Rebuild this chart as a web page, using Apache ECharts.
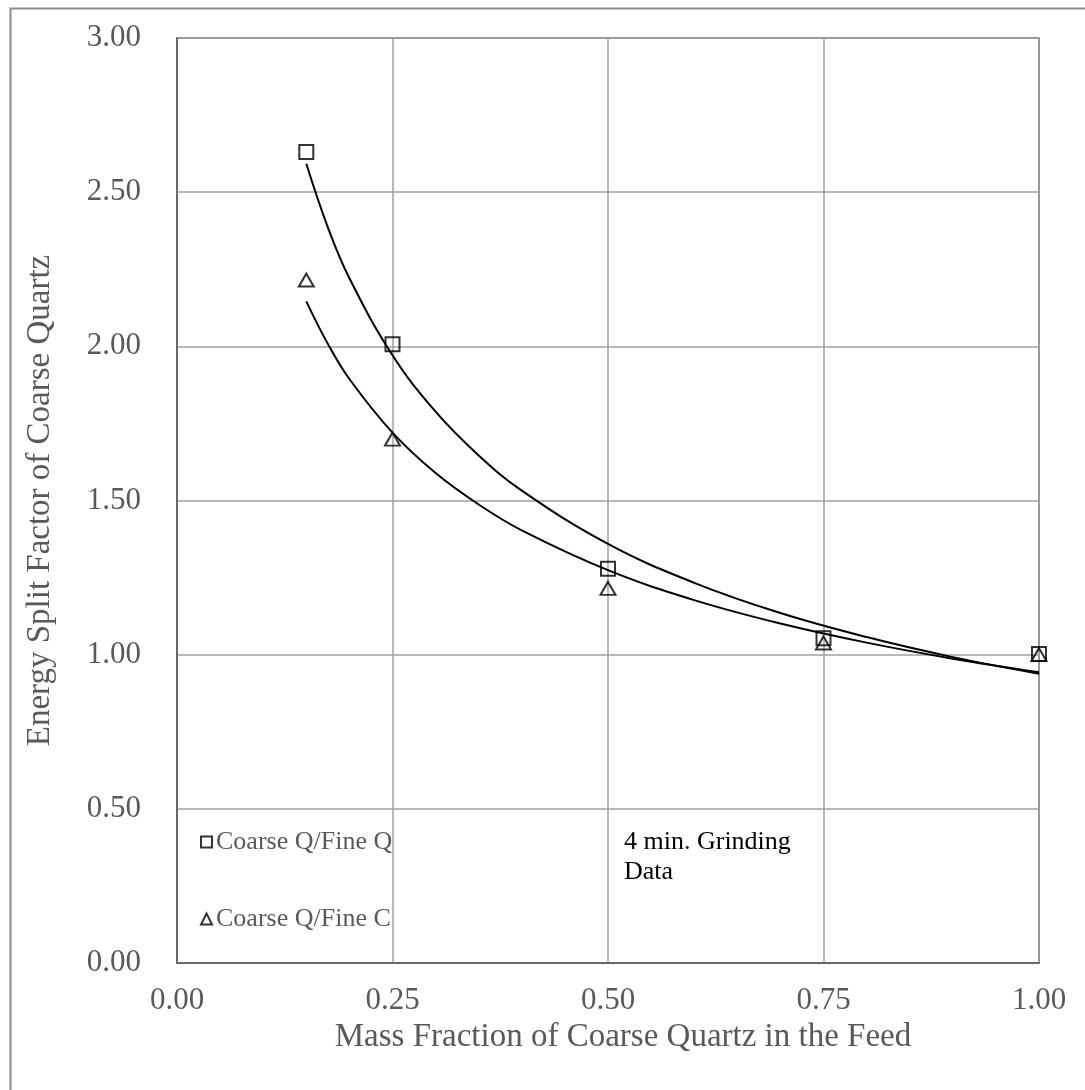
<!DOCTYPE html>
<html>
<head>
<meta charset="utf-8">
<script src="https://cdn.jsdelivr.net/npm/echarts@6/dist/echarts.min.js"></script>
<style>
html,body{margin:0;padding:0;background:#fff;}
#chart{width:1085px;height:1090px;}
</style>
</head>
<body>
<div id="chart"></div>
<script>
// Data
var xMass = [0.15, 0.25, 0.50, 0.75, 1.00];
var coarseQFineQ = [2.63, 2.007, 1.279, 1.053, 1.002];
var coarseQFineC = [2.215, 1.699, 1.215, 1.038, 1.000];

// Trendline curves
var trendX = [0.15, 0.175, 0.2, 0.25, 0.3, 0.35, 0.4, 0.5, 0.6, 0.7, 0.8, 0.9, 1.0];
var trendQ = [2.592, 2.386, 2.221, 1.971, 1.788, 1.646, 1.532, 1.359, 1.233, 1.135, 1.057, 0.992, 0.938];
var trendC = [2.146, 2.008, 1.894, 1.720, 1.589, 1.487, 1.403, 1.274, 1.177, 1.101, 1.039, 0.987, 0.943];

var xTicks = [0, 0.25, 0.5, 0.75, 1.0];
var yTicks = [0, 0.5, 1.0, 1.5, 2.0, 2.5, 3.0];

function pairs(xs, ys){ return xs.map(function(x,i){ return [x, ys[i]]; }); }

var FONT = '"Liberation Serif","Times New Roman",serif';
var GRAY = '#595959';

var chart = echarts.init(document.getElementById('chart'), null, {renderer:'canvas'});
chart.setOption({
  animation: false,
  backgroundColor: '#fff',
  textStyle: {fontFamily: FONT},
  grid: {left: 177, top: 38, width: 862, height: 925, show: true, borderColor: GRAY, borderWidth: 1.5, containLabel: false},
  graphic: [
    {type:'rect', left: 8, top: 6, shape:{width: 1200, height: 1200}, style:{fill:'none', stroke:'#8c8c8c', lineWidth: 2}, z: -1},
    {type:'text', left: 624, top: 827, style:{text:'4 min. Grinding\nData', fill:'#000', font: '26px ' + FONT, lineHeight: 30}}
  ],
  legend: {
    orient: 'vertical', left: 195, top: 824, itemGap: 51, itemWidth: 11, itemHeight: 11, selectedMode: false,
    textStyle: {color: GRAY, fontSize: 26, fontFamily: FONT, padding:[0,0,0,-1]},
    data: ['Coarse Q/Fine Q', 'Coarse Q/Fine C']
  },
  xAxis: {
    type: 'value', min: 0, max: 1, interval: 0.25,
    name: 'Mass Fraction of Coarse Quartz in the Feed', nameLocation: 'middle', nameGap: 54,
    nameTextStyle: {color: GRAY, fontSize: 33, fontFamily: FONT, padding: [0,0,0,30]},
    axisLine: {show: true, lineStyle: {color: GRAY, width: 1.5}},
    axisTick: {show: false},
    axisLabel: {color: GRAY, fontSize: 31, fontFamily: FONT, margin: 22, formatter: function(v){ return v.toFixed(2); }},
    splitLine: {show: true, lineStyle: {color: '#a0a0a0', width: 1.5}}
  },
  yAxis: {
    type: 'value', min: 0, max: 3, interval: 0.5,
    name: 'Energy Split Factor of Coarse Quartz', nameLocation: 'middle', nameGap: 120, nameRotate: 90,
    nameTextStyle: {color: GRAY, fontSize: 33, fontFamily: FONT},
    axisLine: {show: true, lineStyle: {color: GRAY, width: 1.5}},
    axisTick: {show: false},
    axisLabel: {color: GRAY, fontSize: 31, fontFamily: FONT, margin: 36, formatter: function(v){ return v.toFixed(2); }},
    splitLine: {show: true, lineStyle: {color: '#a0a0a0', width: 1.5}}
  },
  series: [
    {name: 'trendQ', type: 'line', data: pairs(trendX, trendQ), smooth: 0.4, showSymbol: false, symbol: 'none',
      lineStyle: {color: '#000', width: 2}, z: 3, silent: true},
    {name: 'trendC', type: 'line', data: pairs(trendX, trendC), smooth: 0.4, showSymbol: false, symbol: 'none',
      lineStyle: {color: '#000', width: 2}, z: 3, silent: true},
    {name: 'Coarse Q/Fine Q', type: 'scatter', data: pairs(xMass, coarseQFineQ), symbol: 'rect', symbolSize: 14,
      itemStyle: {color: 'rgba(255,255,255,0)', borderColor: '#000', borderWidth: 2}, z: 5},
    {name: 'Coarse Q/Fine C', type: 'scatter', data: pairs(xMass, coarseQFineC), symbol: 'triangle', symbolSize: [15, 13],
      itemStyle: {color: 'rgba(255,255,255,0)', borderColor: '#000', borderWidth: 2}, z: 5}
  ]
});
</script>
</body>
</html>
